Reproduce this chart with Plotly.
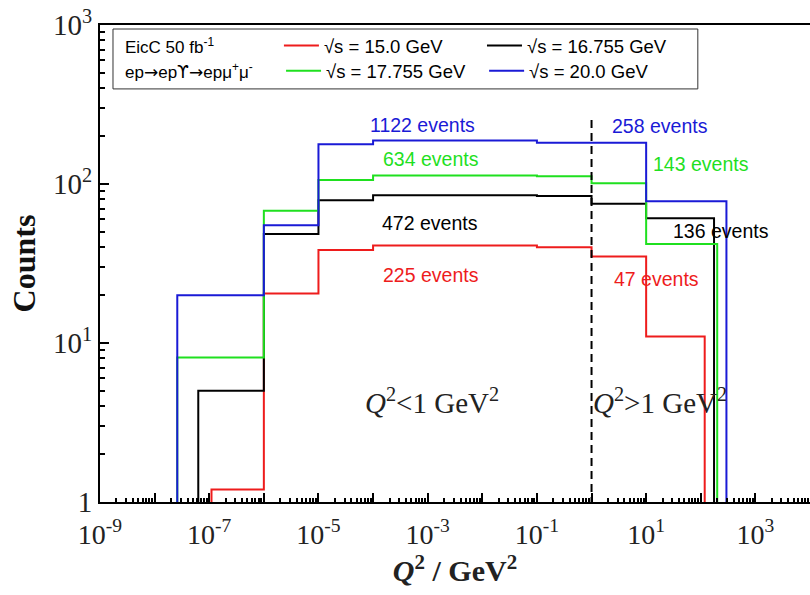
import numpy as np
import plotly.graph_objects as go

# ---------------- data ----------------
series_names = ["√s = 15.0 GeV", "√s = 16.755 GeV", "√s = 17.755 GeV", "√s = 20.0 GeV"]
series_colors = ["#ee1c1c", "#000000", "#1fe01f", "#1a1ad6"]

# common inner bin edges (GeV^2)
inner_edges = [1e-6, 1e-5, 1e-4, 1e-3, 1e-2, 1e-1, 1.0, 10.0]
# kinematic lower / upper limits of Q^2 for each sqrt(s)
q2_low = [1.1e-7, 6.3e-8, 2.6e-8, 2.6e-8]
q2_high = [118.0, 175.0, 200.0, 295.0]

counts_15p0 = [1.2, 20.5, 38.5, 41, 41, 41, 40, 35, 11]
counts_16p755 = [5.0, 48.5, 79, 85, 85, 85, 84, 75, 61]
counts_17p755 = [8.1, 68, 106, 113, 113, 113, 112, 101, 42]
counts_20p0 = [20, 55, 178, 188, 188, 188, 182, 182, 78]
all_counts = [counts_15p0, counts_16p755, counts_17p755, counts_20p0]

q2_cut = 1.0
cut_line_top = 260
events_low = ["225 events", "472 events", "634 events", "1122 events"]
events_high = ["47 events", "136 events", "143 events", "258 events"]
# label anchor positions (Q^2, counts)
events_low_pos = [(1.15e-3, 26.8), (1.1e-3, 57), (1.15e-3, 144), (7.9e-4, 235)]
events_high_pos = [(15.2, 25.3), (237, 50.6), (102, 134), (18, 232)]

region_labels = ["<i>Q</i><sup>2</sup><1 GeV<sup>2</sup>", "<i>Q</i><sup>2</sup>>1 GeV<sup>2</sup>"]
region_pos = [(1.2e-3, 4.3), (18, 4.3)]

arrow = "<span style='font-family:DejaVu Sans'>→</span>"
upsilon = "<span style='font-family:DejaVu Sans'>ϒ</span>"
legend_title_lines = ["EicC 50 fb<sup>-1</sup>",
                      "ep" + arrow + "ep" + upsilon + arrow + "epμ<sup>+</sup>μ<sup>-</sup>"]

x_log_range = [-9, 4]
y_log_range = [0, 3]
floor_val = 0.1

# ---------------- figure ----------------
fig = go.Figure()
legend_ids = ["legend", "legend2", "legend3", "legend4"]
for name, col, lo, hi, cnts, lg in zip(series_names, series_colors, q2_low, q2_high,
                                       all_counts, legend_ids):
    xs = [lo, lo] + inner_edges + [hi]
    ys = [floor_val] + list(cnts) + [floor_val]
    fig.add_trace(go.Scatter(
        x=xs, y=ys, mode="lines", line=dict(color=col, width=2, shape="hv"),
        name=name, legend=lg, showlegend=True, hoverinfo="skip"))

# dashed Q^2 = 1 GeV^2 separator
fig.add_trace(go.Scatter(
    x=[q2_cut, q2_cut], y=[floor_val, cut_line_top], mode="lines",
    line=dict(color="black", width=2, dash="8px,5px"), showlegend=False, hoverinfo="skip"))

sans = "Liberation Sans, Arial, sans-serif"
serif = "Liberation Serif, Times New Roman, serif"

annotations = []
for txt, (xv, yv), col in zip(events_low, events_low_pos, series_colors):
    annotations.append(dict(x=np.log10(xv), y=np.log10(yv), xref="x", yref="y", text=txt,
                            showarrow=False, font=dict(family=sans, size=19.5, color=col)))
for txt, (xv, yv), col in zip(events_high, events_high_pos, series_colors):
    annotations.append(dict(x=np.log10(xv), y=np.log10(yv), xref="x", yref="y", text=txt,
                            showarrow=False, font=dict(family=sans, size=19.5, color=col)))
for txt, (xv, yv) in zip(region_labels, region_pos):
    annotations.append(dict(x=np.log10(xv), y=np.log10(yv), xref="x", yref="y", text=txt,
                            showarrow=False, font=dict(family=serif, size=29, color="#222")))
for i, txt in enumerate(legend_title_lines):
    annotations.append(dict(x=0.0324, y=[0.956, 0.903][i], xref="paper", yref="paper",
                            xanchor="left", yanchor="middle", text=txt, showarrow=False,
                            font=dict(family=sans, size=17, color="black")))

shapes = [
    dict(type="rect", xref="paper", yref="paper", x0=0.0183, x1=0.842, y0=0.866, y1=0.9916,
         line=dict(color="#333", width=1), fillcolor="rgba(0,0,0,0)"),
]

legend_pos = [(0.252, 0.956), (0.538, 0.956), (0.255, 0.903), (0.541, 0.903)]
leg_layout = {}
for lg, (lx, ly) in zip(legend_ids, legend_pos):
    leg_layout[lg] = dict(x=lx, y=ly, xanchor="left", yanchor="middle",
                          bgcolor="rgba(0,0,0,0)", borderwidth=0, itemwidth=35,
                          font=dict(family=sans, size=18.5, color="black"))

x_major = [10.0 ** k for k in range(-9, 5)]
x_text = [("10<sup>%d</sup>" % k) if k % 2 != 0 else "" for k in range(-9, 5)]
x_minor = [m * 10.0 ** k for k in range(-9, 4) for m in range(2, 10)]
y_major = [1, 10, 100, 1000]
y_text = ["1", "10<sup>1</sup>", "10<sup>2</sup>", "10<sup>3</sup>"]
y_minor = [m * 10.0 ** k for k in range(0, 3) for m in range(2, 10)]

fig.update_layout(
    width=810, height=595,
    margin=dict(l=100, r=0, t=25, b=93),
    paper_bgcolor="white", plot_bgcolor="white",
    showlegend=True,
    annotations=annotations, shapes=shapes,
    **leg_layout,
    xaxis=dict(type="log", range=x_log_range, showgrid=False, zeroline=False,
               showline=True, linecolor="black", linewidth=2, mirror=True,
               ticks="inside", ticklen=9, tickwidth=1.5, tickcolor="black",
               tickmode="array", tickvals=x_major, ticktext=x_text,
               minor=dict(tickmode="array", tickvals=x_minor, ticks="inside",
                          ticklen=4, tickcolor="black", showgrid=False),
               tickfont=dict(family=serif, size=28, color="#222"),
               ticklabelstandoff=6,
               title=dict(text="<b><i>Q</i><sup>2</sup> / GeV<sup>2</sup></b>",
                          font=dict(family=serif, size=30, color="#222"), standoff=10)),
    yaxis=dict(type="log", range=y_log_range, showgrid=False, zeroline=False,
               showline=True, linecolor="black", linewidth=2, mirror=False,
               ticks="inside", ticklen=9, tickwidth=1.5, tickcolor="black",
               tickmode="array", tickvals=y_major, ticktext=y_text,
               minor=dict(tickmode="array", tickvals=y_minor, ticks="inside",
                          ticklen=5, tickcolor="black", showgrid=False),
               tickfont=dict(family=serif, size=29, color="#222"),
               title=dict(text="<b>Counts</b>",
                          font=dict(family=serif, size=32, color="#111"), standoff=8)),
)

fig.write_html("out.html")
